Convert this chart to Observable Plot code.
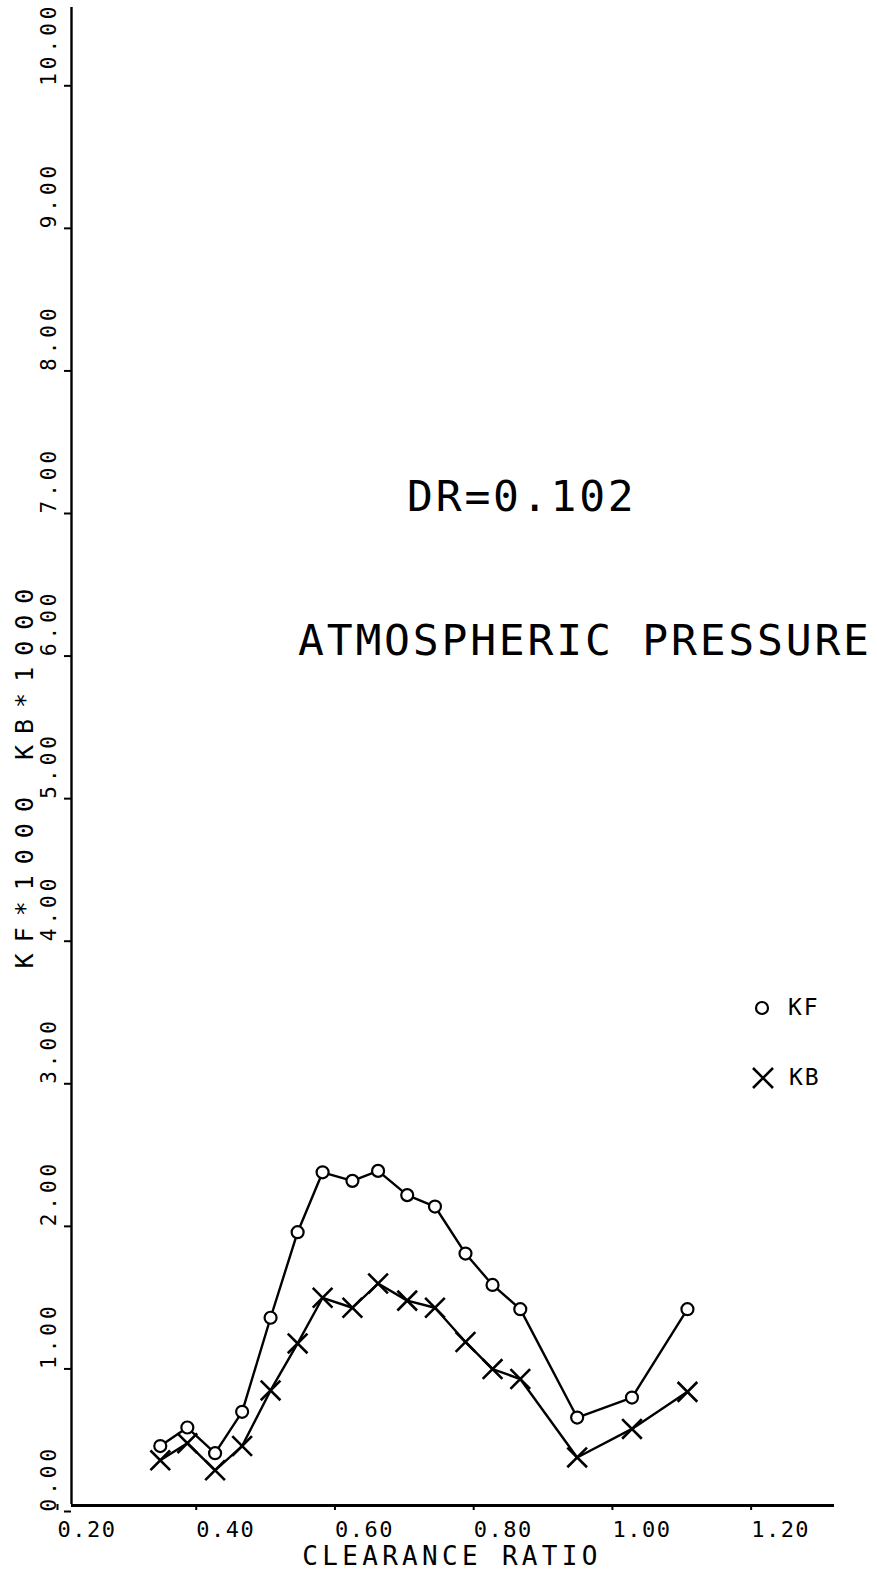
<!DOCTYPE html>
<html>
<head>
<meta charset="utf-8">
<script src="https://cdn.jsdelivr.net/npm/d3@7"></script>
<script src="https://cdn.jsdelivr.net/npm/@observablehq/plot@0.6"></script>
<style>
  html, body { margin: 0; padding: 0; background: #fff; }
  #wrap { position: relative; width: 877px; height: 1573px; overflow: hidden;
          font-family: "DejaVu Sans Mono", "Liberation Mono", monospace; color: #000; }
  #chart { position: absolute; left: 0; top: 0; }
  .lbl { position: absolute; white-space: nowrap; line-height: 1; }
  #t1, #t2 { font-size: 43px; letter-spacing: 2.8px; }
  #t1 { left: 407px; top: 475px; }
  #t2 { left: 298px; top: 619px; }
  #xlab { font-size: 26px; letter-spacing: 4.3px; left: 452px; top: 1543px; transform: translateX(-50%); }
  #ylab { font-size: 25px; letter-spacing: 11px; left: 24px; top: 773px;
          transform: translate(-50%, -50%) rotate(-90deg); }
  .legrow { position: absolute; display: flex; align-items: center; gap: 15px; font-size: 23px; letter-spacing: 2px; line-height: 1; }
  .legrow svg { display: block; overflow: visible; }
  #chart g[aria-label="y-axis tick label"] { letter-spacing: 4px; }
  #chart g[aria-label="x-axis tick label"] { letter-spacing: 1.5px; }
</style>
</head>
<body>
<div id="wrap">
  <div id="chart"></div>
  <div class="lbl" id="t1">DR=0.102</div>
  <div class="lbl" id="t2">ATMOSPHERIC PRESSURE</div>
  <div class="lbl" id="xlab">CLEARANCE RATIO</div>
  <div class="lbl" id="ylab">KF*1000 KB*1000</div>
  <div class="legrow" id="legKF" style="left:751px; top:996px;">
    <svg width="22" height="22"><circle cx="11" cy="11" r="6" fill="white" stroke="black" stroke-width="2.2"></circle></svg>
    <span>KF</span>
  </div>
  <div class="legrow" id="legKB" style="left:752px; top:1066px;">
    <svg width="22" height="22"><path d="M1,1L21,21M21,1L1,21" stroke="black" stroke-width="2.6" fill="none"></path></svg>
    <span>KB</span>
  </div>
</div>
<script>
// ---- data ----
const clearance = [0.328, 0.367, 0.407, 0.446, 0.487, 0.526, 0.562, 0.605, 0.642,
                   0.684, 0.724, 0.768, 0.807, 0.847, 0.929, 1.008, 1.088];
const kfValues = [0.41, 0.54, 0.36, 0.65, 1.31, 1.91, 2.33, 2.27, 2.34,
                  2.17, 2.09, 1.76, 1.54, 1.37, 0.61, 0.75, 1.37];
const kbValues = [0.31, 0.43, 0.24, 0.41, 0.80, 1.13, 1.45, 1.38, 1.55,
                  1.43, 1.38, 1.14, 0.95, 0.88, 0.33, 0.53, 0.79];
const seriesNames = ["KF", "KB"];
const xTicks = [0.20, 0.40, 0.60, 0.80, 1.00, 1.20];
const yTicks = [0, 1, 2, 3, 4, 5, 6, 7, 8, 9, 10];

const kfRows = clearance.map((c, i) => ({x: c, y: kfValues[i], s: seriesNames[0]}));
const kbRows = clearance.map((c, i) => ({x: c, y: kbValues[i], s: seriesNames[1]}));

const plot = Plot.plot({
  width: 877,
  height: 1573,
  marginLeft: 71,
  marginRight: 43,
  marginTop: 7,
  marginBottom: 69,
  style: {fontFamily: "DejaVu Sans Mono, monospace", background: "white", color: "black"},
  x: {domain: [0.2, 1.3], label: null},
  y: {domain: [0, 10.5], label: null},
  marks: [
    Plot.ruleX([xTicks[0]], {stroke: "black", strokeWidth: 2.4}),
    Plot.ruleY([yTicks[0]], {stroke: "black", strokeWidth: 2.8, dy: 1}),
    Plot.axisX({
      ticks: xTicks, tickSize: 6, tickPadding: 11, tickFormat: d => d.toFixed(2),
      textAnchor: "start", dx: -14, fontSize: 22, label: null, strokeWidth: 2
    }),
    Plot.axisY({
      ticks: yTicks, tickSize: 7, tickPadding: 9, tickRotate: -90, tickFormat: d => d.toFixed(2),
      textAnchor: "start", dy: 7, fontSize: 21, label: null, strokeWidth: 2
    }),
    Plot.line(kfRows, {x: "x", y: "y", stroke: "black", strokeWidth: 2.4}),
    Plot.line(kbRows, {x: "x", y: "y", stroke: "black", strokeWidth: 2.4}),
    Plot.dot(kfRows, {x: "x", y: "y", r: 6, symbol: "circle", fill: "white", stroke: "black", strokeWidth: 2.2}),
    Plot.dot(kbRows, {x: "x", y: "y", r: 9, symbol: "times", stroke: "black", strokeWidth: 2.6})
  ]
});
document.getElementById("chart").append(plot);
</script>
</body>
</html>
